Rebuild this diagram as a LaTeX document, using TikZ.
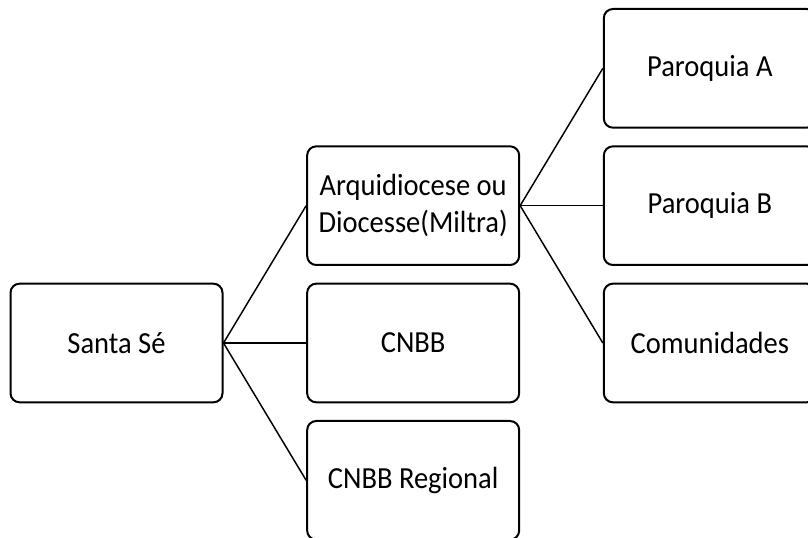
\documentclass[tikz,border=0pt]{standalone}
\usepackage{fontspec}
\setmainfont{Carlito}[FakeStretch=0.93]
\usetikzlibrary{positioning}
\tikzset{box/.style = {
  % Rectangle:
  rectangle,
  draw=black, line width=1.5pt, rounded corners=2.4mm,
  minimum width=159pt, minimum height=89pt,
  % Text
  text centered, align=center,
  font=\fontsize{23}{28}\selectfont
  }}
\tikzset{link/.style = {
  draw=black,
  line width=1.1pt
  }}

\begin{document}
\begin{tikzpicture}[x=0.75pt, y=-0.75pt, node distance=12.5pt and 62pt]
\clip (0,0) rectangle (808,538);

% NODES
\node (santa) [box] at (116.5,343) {Santa Sé};

\node (cnbb) [box, right=of santa] {CNBB};
\node (arqui) [box, above=of cnbb] {Arquidiocese ou\\Diocesse(Miltra)};
\node (regional) [box, below=of cnbb] {CNBB Regional};

\node (parB) [box, right=of arqui] {Paroquia B};
\node (parA) [box, above=of parB] {Paroquia A};
\node (comunidades) [box, below=of parB] {Comunidades};

% lines
\draw [link] (santa.east) -- (arqui.west);
\draw [link] (santa.east) -- (cnbb.west);
\draw [link] (santa.east) -- (regional.west);

\draw [link] (arqui.east) -- (parA.west);
\draw [link] (arqui.east) -- (parB.west);
\draw [link] (arqui.east) -- (comunidades.west);
\end{tikzpicture}
\end{document}
